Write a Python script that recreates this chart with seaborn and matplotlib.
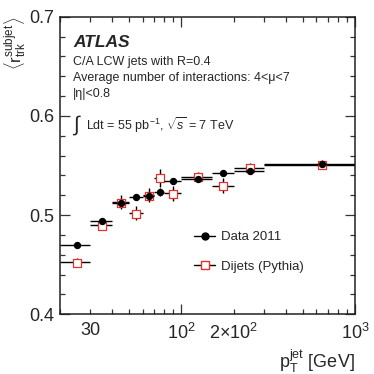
import matplotlib
matplotlib.use("Agg")
import matplotlib.pyplot as plt
import matplotlib.ticker as mticker
from matplotlib.lines import Line2D
import seaborn as sns
import pandas as pd

# bins in jet pT [GeV]
bin_lo = [20, 30, 40, 50, 60, 70, 80, 100, 150, 200, 300]
bin_hi = [30, 40, 50, 60, 70, 80, 100, 150, 200, 300, 1000]
pt_center = [25, 35, 45, 55, 65, 75, 90, 125, 175, 250, 650]

# Data 2011
data_val = [0.470, 0.494, 0.512, 0.518, 0.519, 0.523, 0.534, 0.536, 0.542, 0.544, 0.552]
data_err = [0.002, 0.002, 0.003, 0.003, 0.004, 0.004, 0.003, 0.003, 0.003, 0.003, 0.004]

# Dijets (Pythia)
mc_val = [0.452, 0.489, 0.512, 0.501, 0.519, 0.537, 0.521, 0.538, 0.529, 0.547, 0.550]
mc_err = [0.004, 0.005, 0.007, 0.007, 0.007, 0.009, 0.0075, 0.005, 0.008, 0.005, 0.003]

df = pd.DataFrame({"pt": pt_center, "lo": bin_lo, "hi": bin_hi,
                   "data": data_val, "data_err": data_err,
                   "mc": mc_val, "mc_err": mc_err})
df["xl"] = df["pt"] - df["lo"]
df["xh"] = df["hi"] - df["pt"]

sns.set_style("ticks")
plt.rcParams["font.family"] = ["Liberation Sans", "DejaVu Sans"]
plt.rcParams["mathtext.fontset"] = "custom"
plt.rcParams["mathtext.rm"] = "Liberation Sans"
plt.rcParams["mathtext.it"] = "Liberation Sans:italic"
plt.rcParams["mathtext.bf"] = "Liberation Sans:bold"

fig = plt.figure(figsize=(3.74, 3.74), dpi=100)
ax = fig.add_axes([0.160, 0.160, 0.789, 0.795])

# MC first (data drawn on top)
ax.errorbar(df["pt"], df["mc"] + 0.0008, xerr=[df["xl"], df["xh"]], yerr=df["mc_err"],
            fmt="none", ecolor="black", elinewidth=1.0, capsize=0, zorder=2)
sns.scatterplot(data=df, x="pt", y="mc", marker="s", s=30, facecolor="white",
                edgecolor="#e8302a", linewidth=0.9, legend=False, zorder=3, ax=ax)
ax.errorbar(df["pt"], df["data"], xerr=[df["xl"], df["xh"]], yerr=df["data_err"],
            fmt="none", ecolor="black", elinewidth=1.0, capsize=0, zorder=4)
sns.scatterplot(data=df, x="pt", y="data", marker="o", s=28, color="black",
                edgecolor="black", linewidth=0, legend=False, zorder=5, ax=ax)

ax.set_xscale("log")
ax.set_xlim(20, 1000)
ax.set_ylim(0.4, 0.7)

# ticks
ax.xaxis.set_major_locator(mticker.FixedLocator([100, 1000]))
ax.xaxis.set_major_formatter(mticker.FixedFormatter([r"$10^{2}$", r"$10^{3}$"]))
minor_x = [20, 30, 40, 50, 60, 70, 80, 90, 200, 300, 400, 500, 600, 700, 800, 900]
ax.xaxis.set_minor_locator(mticker.FixedLocator(minor_x))
minor_lab = {30: "30", 200: r"2$\times$$10^{2}$"}
ax.xaxis.set_minor_formatter(mticker.FuncFormatter(lambda v, p: minor_lab.get(int(round(v)), "")))
ax.yaxis.set_major_locator(mticker.MultipleLocator(0.1))
ax.yaxis.set_minor_locator(mticker.MultipleLocator(0.02))
ax.yaxis.set_major_formatter(mticker.FormatStrFormatter("%.1f"))

ax.tick_params(which="both", direction="in", top=True, right=True, color="#333333", width=0.9)
ax.tick_params(which="major", length=7, labelsize=13, pad=6)
ax.tick_params(which="minor", length=3.5, labelsize=13, pad=6)
ax.tick_params(axis="y", which="major", pad=4)
for sp in ax.spines.values():
    sp.set_linewidth(1.1)
    sp.set_color("#222222")

ax.set_xlabel(r"$\mathrm{p}_{\mathrm{T}}^{\mathrm{jet}}$ [GeV]", fontsize=13, loc="right", labelpad=4)
ax.set_ylabel(r"$\langle\mathrm{r}_{\mathrm{trk}}^{\mathrm{subjet}}\rangle$", fontsize=12,
              loc="top", labelpad=1)

# annotations
ax.text(0.045, 0.915, "ATLAS", transform=ax.transAxes, fontsize=12.5,
        fontweight="bold", fontstyle="italic", va="center")
ax.text(0.045, 0.848, "C/A LCW jets with R=0.4", transform=ax.transAxes, fontsize=9, va="center")
ax.text(0.045, 0.793, "Average number of interactions: 4<μ<7", transform=ax.transAxes,
        fontsize=9, va="center")
ax.text(0.045, 0.740, "|η|<0.8", transform=ax.transAxes, fontsize=9, va="center")
ax.text(0.040, 0.636, r"$\int$", transform=ax.transAxes, fontsize=15, va="center")
ax.text(0.088, 0.636, r"Ldt = 55 pb$^{-1}$, $\sqrt{s}$ = 7 TeV", transform=ax.transAxes,
        fontsize=9, va="center")

handles = [
    Line2D([0], [0], color="black", lw=1.0, marker="o", markersize=5,
           markerfacecolor="black", markeredgecolor="black"),
    Line2D([0], [0], color="black", lw=1.0, marker="s", markersize=5.5,
           markerfacecolor="white", markeredgecolor="#e8302a"),
]
ax.legend(handles, ["Data 2011", "Dijets (Pythia)"], loc="center left",
          bbox_to_anchor=(0.415, 0.21), frameon=False, fontsize=9.5,
          handlelength=1.6, handletextpad=0.4, labelspacing=1.3)

fig.savefig("out.png", dpi=100)
